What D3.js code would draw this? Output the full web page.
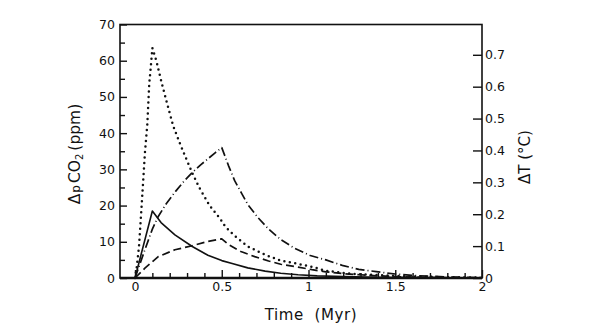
<!DOCTYPE html>
<html>
<head>
<meta charset="utf-8">
<script src="https://cdn.jsdelivr.net/npm/d3@7"></script>
<style>
  html, body { margin: 0; padding: 0; background: #fff; }
  svg { display: block; }
  text { font-family: "DejaVu Sans", sans-serif; fill: #111; }
</style>
</head>
<body>
<svg id="chart" width="600" height="334"></svg>
<script>
// ---- data ----
const leftTicks  = [0, 10, 20, 30, 40, 50, 60, 70];
const leftMinor  = [5, 15, 25, 35, 45, 55, 65];
const rightTicks = [0, 0.1, 0.2, 0.3, 0.4, 0.5, 0.6, 0.7];
const xTicks     = [0, 0.5, 1, 1.5, 2];
const xMinor     = [0.1, 0.2, 0.3, 0.4, 0.6, 0.7, 0.8, 0.9, 1.1, 1.2, 1.3, 1.4, 1.6, 1.7, 1.8, 1.9];

// dotted curve
const dottedT = [0, 0.01, 0.023, 0.038, 0.057, 0.071, 0.082, 0.09, 0.1, 0.124, 0.153, 0.186, 0.22, 0.26, 0.29, 0.33, 0.37, 0.43, 0.49, 0.52, 0.57, 0.65, 0.75, 0.84, 0.94, 1.02, 1.1, 1.2, 1.3, 1.4, 1.5, 1.6, 1.8, 2.0];
const dottedV = [0, 3, 8.7, 19.8, 34.5, 42.5, 53.6, 57.8, 63.5, 59.8, 54, 48, 42, 37, 33.5, 29, 25, 20, 16.4, 14.2, 11.8, 8.7, 6.4, 4.8, 3.9, 3.1, 2.0, 1.4, 1.0, 0.8, 0.6, 0.4, 0.2, 0.1];
// solid curve
const solidT = [0, 0.1, 0.15, 0.23, 0.33, 0.42, 0.5, 0.56, 0.65, 0.75, 0.84, 0.94, 1.05, 1.2, 1.4, 1.6, 1.8, 2.0];
const solidV = [0, 18.5, 15.3, 11.9, 8.7, 6.3, 4.8, 4.0, 2.8, 1.9, 1.3, 0.9, 0.6, 0.4, 0.2, 0.1, 0.05, 0];
// dash-dot curve
const dashDotT = [0, 0.057, 0.1, 0.134, 0.18, 0.23, 0.28, 0.33, 0.38, 0.42, 0.46, 0.5, 0.54, 0.575, 0.613, 0.65, 0.71, 0.77, 0.84, 0.92, 1.01, 1.1, 1.2, 1.29, 1.39, 1.5, 1.6, 1.8, 2.0];
const dashDotV = [0, 7.8, 13.5, 17, 20.5, 23.7, 26.6, 29.1, 31.3, 32.9, 34.5, 36, 30.9, 26.8, 23.5, 20.3, 16.6, 13.5, 10.6, 8.2, 6.2, 5, 3.4, 2.4, 1.75, 1.1, 0.7, 0.3, 0.1];
// dashed curve
const dashedT = [0, 0.057, 0.134, 0.23, 0.33, 0.42, 0.5, 0.54, 0.61, 0.69, 0.77, 0.84, 0.94, 1.02, 1.1, 1.2, 1.3, 1.4, 1.5, 1.6, 1.8, 2.0];
const dashedV = [0, 2.7, 5.9, 7.8, 8.9, 10.1, 10.8, 9.2, 7.3, 5.9, 4.7, 3.8, 3.0, 2.3, 1.7, 1.2, 0.9, 0.6, 0.4, 0.25, 0.1, 0];

const xDomain = [-0.0865, 2];
const yDomain = [0, 70];
const yRDomain = [0, 0.795];

// ---- layout ----
const L = 120, R = 482, T = 24.5, B = 278;
const svg = d3.select("#chart");
const x = d3.scaleLinear().domain(xDomain).range([L, R]);
const y = d3.scaleLinear().domain(yDomain).range([B, T]);
const yR = d3.scaleLinear().domain(yRDomain).range([B, T]);

const fmt = d => String(d);

// frame
svg.append("rect").attr("x", L).attr("y", T).attr("width", R - L).attr("height", B - T)
  .attr("fill", "none").attr("stroke", "#111").attr("stroke-width", 1.6);
svg.append("line").attr("x1", L).attr("x2", R).attr("y1", B).attr("y2", B)
  .attr("stroke", "#111").attr("stroke-width", 2.6);

function styleAxis(g) {
  g.select(".domain").remove();
  g.selectAll(".tick line").attr("stroke", "#111").attr("stroke-width", 1.4);
  g.selectAll(".tick text").attr("font-size", 12.5).attr("fill", "#111")
    .style("font-family", '"DejaVu Sans", sans-serif');
}

// left axis
svg.append("g").attr("transform", `translate(${L},0)`)
  .call(d3.axisLeft(y).tickValues(leftTicks).tickFormat(fmt).tickSize(-7).tickPadding(5))
  .call(styleAxis);
svg.append("g").attr("transform", `translate(${L},0)`)
  .call(d3.axisLeft(y).tickValues(leftMinor).tickFormat("").tickSize(-5))
  .call(styleAxis);

// right axis
svg.append("g").attr("transform", `translate(${R},0)`)
  .call(d3.axisRight(yR).tickValues(rightTicks).tickFormat(fmt).tickSize(-9).tickPadding(3))
  .call(styleAxis);

// bottom axis
svg.append("g").attr("transform", `translate(0,${B})`)
  .call(d3.axisBottom(x).tickValues(xTicks).tickFormat(fmt).tickSize(-8).tickPadding(4))
  .call(styleAxis);
svg.append("g").attr("transform", `translate(0,${B})`)
  .call(d3.axisBottom(x).tickValues(xMinor).tickFormat("").tickSize(-5))
  .call(styleAxis);

// curves
const line = d3.line().x(d => x(d[0])).y(d => y(d[1]));
function drawCurve(ts, vs, dash, width, cap) {
  svg.append("path")
    .datum(ts.map((t, i) => [t, vs[i]]))
    .attr("d", line)
    .attr("fill", "none")
    .attr("stroke", "#111")
    .attr("stroke-width", width)
    .attr("stroke-linecap", cap)
    .attr("stroke-linejoin", "round")
    .attr("stroke-dasharray", dash);
}
drawCurve(dottedT, dottedV, "0 5.5", 2.5, "round");
drawCurve(solidT, solidV, null, 1.6, "butt");
drawCurve(dashDotT, dashDotV, "9 3 1 3", 1.7, "butt");
drawCurve(dashedT, dashedV, "8 4", 1.7, "butt");

// axis titles
svg.append("text")
  .attr("x", 311).attr("y", 320)
  .attr("text-anchor", "middle")
  .attr("font-size", 15)
  .style("white-space", "pre")
  .style("letter-spacing", "0.6px")
  .text("Time  (Myr)");

const lt = svg.append("text")
  .attr("transform", "translate(80,154) rotate(-90)")
  .attr("text-anchor", "middle")
  .attr("font-size", 15.5);
lt.append("tspan").text("Δ");
lt.append("tspan").attr("font-size", 12).attr("dx", 1).text("p");
lt.append("tspan").attr("dx", 2).text("CO");
lt.append("tspan").attr("font-size", 10).attr("dy", 3).text("2");
lt.append("tspan").attr("dy", -3).attr("dx", 3).text("(ppm)");

svg.append("text")
  .attr("transform", "translate(530,157) rotate(-90)")
  .attr("text-anchor", "middle")
  .attr("font-size", 15)
  .style("white-space", "pre")
  .text("ΔT (°C)");
</script>
</body>
</html>
